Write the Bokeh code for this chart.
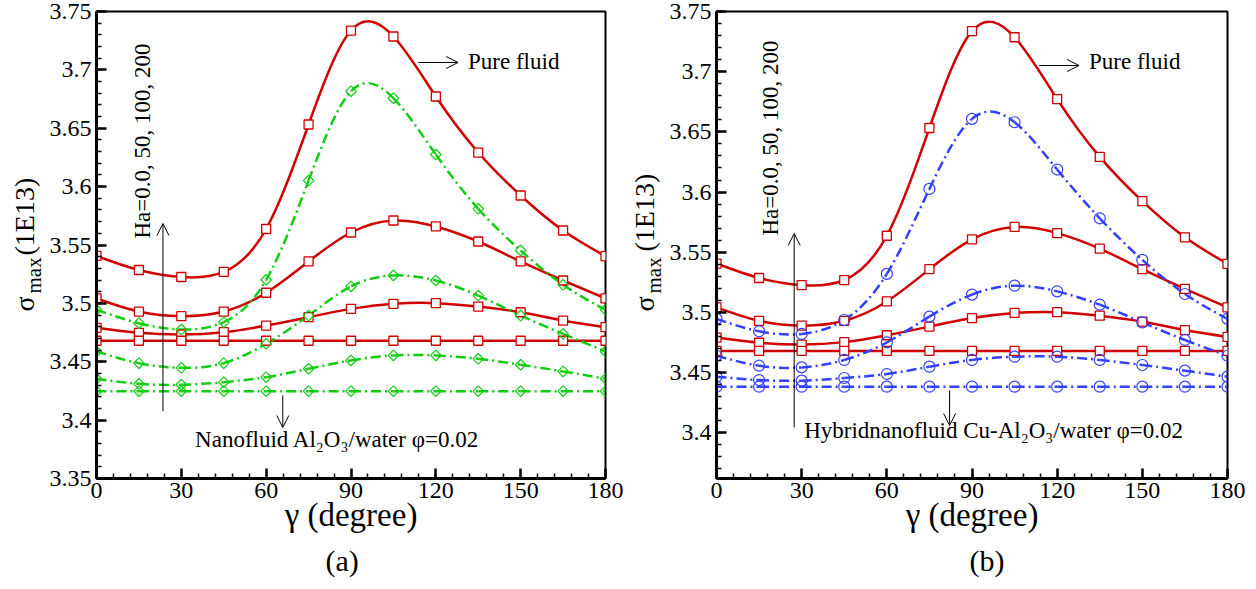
import numpy as np
from bokeh.plotting import figure
from bokeh.layouts import row
from bokeh.models import Label, Arrow, OpenHead, FixedTicker, Title, CustomJSTickFormatter
from bokeh.embed import file_html
from bokeh.resources import INLINE

# ---------------- data ----------------
gamma = [0, 15, 30, 45, 60, 75, 90, 105, 120, 135, 150, 165, 180]

# pure fluid (red squares), Ha = 0, 50, 100, 200
pure_ha0 = [3.468, 3.468, 3.468, 3.468, 3.468, 3.468, 3.468, 3.468, 3.468, 3.468, 3.468, 3.468, 3.468]
pure_ha50 = [3.4791, 3.4748, 3.4733, 3.4753, 3.4810, 3.4882, 3.4953, 3.4996, 3.5002, 3.4973, 3.4924, 3.4853, 3.4796]
pure_ha100 = [3.5042, 3.4930, 3.4890, 3.4930, 3.5091, 3.5359, 3.5607, 3.5710, 3.5659, 3.5530, 3.5359, 3.5196, 3.5042]
pure_ha200 = [3.5406, 3.5286, 3.5226, 3.5269, 3.5637, 3.6532, 3.7337, 3.7286, 3.6772, 3.6292, 3.5924, 3.5624, 3.5404]

# nanofluid Al2O3/water (green diamonds)
nano_ha0 = [3.4248, 3.4248, 3.4248, 3.4248, 3.4248, 3.4248, 3.4248, 3.4248, 3.4248, 3.4248, 3.4248, 3.4248, 3.4248]
nano_ha50 = [3.4354, 3.4311, 3.4303, 3.4325, 3.4368, 3.4440, 3.4511, 3.4554, 3.4554, 3.4525, 3.4474, 3.4417, 3.4354]
nano_ha100 = [3.4588, 3.4488, 3.4448, 3.4488, 3.4654, 3.4896, 3.5145, 3.5239, 3.5196, 3.5067, 3.4896, 3.4739, 3.4588]
nano_ha200 = [3.4945, 3.4830, 3.4776, 3.4839, 3.5202, 3.6052, 3.6817, 3.6757, 3.6275, 3.5810, 3.5453, 3.5159, 3.4945]

# hybrid nanofluid Cu-Al2O3/water (blue circles)
hyb_ha0 = [3.4383, 3.4383, 3.4383, 3.4383, 3.4383, 3.4383, 3.4383, 3.4383, 3.4383, 3.4383, 3.4383, 3.4383, 3.4383]
hyb_ha50 = [3.4466, 3.4438, 3.4433, 3.4455, 3.4488, 3.4549, 3.4605, 3.4632, 3.4632, 3.4605, 3.4563, 3.4516, 3.4466]
hyb_ha100 = [3.4640, 3.4557, 3.4543, 3.4605, 3.4751, 3.4965, 3.5148, 3.5222, 3.5175, 3.5064, 3.4917, 3.4771, 3.4640]
hyb_ha200 = [3.4946, 3.4843, 3.4821, 3.4937, 3.5320, 3.6026, 3.6608, 3.6580, 3.6187, 3.5782, 3.5436, 3.5153, 3.4946]

x_ticks = [0, 30, 60, 90, 120, 150, 180]
y_ticks_a = [3.35, 3.4, 3.45, 3.5, 3.55, 3.6, 3.65, 3.7, 3.75]
y_tick_labels_a = ["3.35", "3.4", "3.45", "3.5", "3.55", "3.6", "3.65", "3.7", "3.75"]
y_ticks_b = [3.4, 3.45, 3.5, 3.55, 3.6, 3.65, 3.7, 3.75]
y_tick_labels_b = ["3.4", "3.45", "3.5", "3.55", "3.6", "3.65", "3.7", "3.75"]

FONT = "Liberation Serif"
RED = "#d10000"
GREEN = "#12cc12"
BLUE = "#3340ff"
MID = 0.3375  # distance from baseline to text middle, in em


def spline_bezier(xs, ys):
    """Natural cubic spline through the points, expressed as cubic Bezier segments."""
    x = np.asarray(xs, float)
    y = np.asarray(ys, float)
    n = len(x)
    h = np.diff(x)
    A = np.zeros((n, n))
    r = np.zeros(n)
    A[0, 0] = 1
    A[-1, -1] = 1
    for i in range(1, n - 1):
        A[i, i - 1] = h[i - 1]
        A[i, i] = 2 * (h[i - 1] + h[i])
        A[i, i + 1] = h[i]
        r[i] = 6 * ((y[i + 1] - y[i]) / h[i] - (y[i] - y[i - 1]) / h[i - 1])
    M = np.linalg.solve(A, r)
    d = np.empty(n)
    d[:-1] = (y[1:] - y[:-1]) / h - h * (2 * M[:-1] + M[1:]) / 6
    d[-1] = (y[-1] - y[-2]) / h[-1] + h[-1] * (M[-2] + 2 * M[-1]) / 6
    return dict(
        x0=x[:-1], y0=y[:-1], x1=x[1:], y1=y[1:],
        cx0=x[:-1] + h / 3, cy0=y[:-1] + d[:-1] * h / 3,
        cx1=x[1:] - h / 3, cy1=y[1:] - d[1:] * h / 3,
    )


def make_ytitle(width, pieces):
    """Narrow strip holding the rotated y-axis title sigma_max(1E13).
    Its frame is aligned with the neighbouring plot frames (page y 11..478),
    so the y range is chosen such that data y = 589 - page y."""
    t = figure(width=width, height=589, x_range=(0, width), y_range=(589 - 478, 589 - 11),
               output_backend="svg", toolbar_location=None,
               x_axis_location=None, y_axis_location=None,
               min_border=0, min_border_left=0, min_border_right=0,
               min_border_top=0, min_border_bottom=0)
    t.outline_line_color = None
    t.xgrid.visible = False
    t.ygrid.visible = False
    t.background_fill_color = "white"
    t.border_fill_color = "white"
    for txt, base_x, start_y, fs in pieces:
        t.add_layout(Label(x=base_x - MID * fs, y=589 - start_y, text=txt, angle=np.pi / 2,
                           text_font=FONT, text_font_size=f"{fs}px", text_color="black",
                           text_align="left", text_baseline="middle"))
    return t


def make_panel(width, y0, y1, yt, border_left, border_right, series, px2d, texts, ytl):
    p = figure(width=width, height=589, x_range=(0, 180), y_range=(y0, y1),
               output_backend="svg", toolbar_location=None,
               min_border_left=border_left, min_border_right=border_right,
               min_border_top=11, min_border_bottom=111)
    p.xgrid.visible = False
    p.ygrid.visible = False
    p.outline_line_color = "black"
    p.outline_line_width = 2
    p.background_fill_color = "white"
    p.border_fill_color = "white"

    p.xaxis.ticker = FixedTicker(ticks=x_ticks, minor_ticks=list(range(0, 181, 6)))
    p.yaxis.ticker = FixedTicker(ticks=yt, minor_ticks=[round(3.35 + 0.01 * i, 2) for i in range(41)])
    p.yaxis.formatter = CustomJSTickFormatter(
        args=dict(tv=yt, tl=ytl),
        code="for (let i = 0; i < tv.length; i++) { if (Math.abs(tv[i] - tick) < 1e-6) return tl[i]; } return '';")
    for ax in (p.xaxis[0], p.yaxis[0]):
        ax.axis_line_width = 3
        ax.axis_line_color = "black"
        ax.major_tick_in = 10
        ax.major_tick_out = 0
        ax.minor_tick_in = 5
        ax.minor_tick_out = 0
        ax.major_tick_line_width = 2.5
        ax.minor_tick_line_width = 1.5
        ax.major_tick_line_color = "black"
        ax.minor_tick_line_color = "black"
        ax.major_label_text_font = FONT
        ax.major_label_text_font_size = "24px"
        ax.major_label_text_color = "black"
        ax.major_label_standoff = 5
    p.xaxis.major_label_standoff = 4
    p.xaxis.axis_label = "\u03b3 (degree)"
    p.xaxis.axis_label_text_font = FONT
    p.xaxis.axis_label_text_font_size = "33px"
    p.xaxis.axis_label_text_font_style = "normal"
    p.xaxis.axis_label_text_color = "black"
    p.xaxis.axis_label_standoff = -4

    for ys, color, dash, marker in series:
        b = spline_bezier(gamma, ys)
        p.bezier(x0=b["x0"], y0=b["y0"], x1=b["x1"], y1=b["y1"],
                 cx0=b["cx0"], cy0=b["cy0"], cx1=b["cx1"], cy1=b["cy1"],
                 line_color=color, line_width=2.5, line_dash=dash)
    for ys, color, dash, marker in series:
        if marker == "square":
            p.scatter(gamma, ys, marker="square", size=9, line_color=color,
                      line_width=1.3, fill_color="white")
        elif marker == "diamond":
            p.scatter(gamma, ys, marker="square", angle=np.pi / 4, size=7.5,
                      line_color=color, line_width=1.2, fill_alpha=0)
        else:
            p.scatter(gamma, ys, marker="circle", size=11, line_color=color,
                      line_width=1.2, fill_alpha=0)

    fx, fy = px2d
    fs = 23
    # Ha arrow and rotated text
    (hx, hy0, hy1), (tx, ty) = texts["ha"]
    p.add_layout(Arrow(end=OpenHead(size=12, line_width=1, line_color="black"),
                       x_start=fx(hx), y_start=fy(hy0), x_end=fx(hx), y_end=fy(hy1),
                       line_width=1, line_color="black"))
    p.add_layout(Label(x=fx(tx - MID * fs), y=fy(ty), text="Ha=0.0, 50, 100, 200", angle=np.pi / 2,
                       text_font=FONT, text_font_size=f"{fs}px", text_color="black",
                       text_align="left", text_baseline="middle"))
    # pure fluid arrow + label
    (ax0, ax1, ay), (ptx, pty) = texts["pure"]
    p.add_layout(Arrow(end=OpenHead(size=12, line_width=1, line_color="black"),
                       x_start=fx(ax0), y_start=fy(ay), x_end=fx(ax1), y_end=fy(ay),
                       line_width=1, line_color="black"))
    p.add_layout(Label(x=fx(ptx), y=fy(pty - MID * fs), text="Pure fluid", text_font=FONT,
                       text_font_size=f"{fs}px", text_color="black",
                       text_align="left", text_baseline="middle"))
    # down arrow + fluid label
    (dx, dy0, dy1), (ntx, nty, ntext) = texts["fluid"]
    p.add_layout(Arrow(end=OpenHead(size=12, line_width=1, line_color="black"),
                       x_start=fx(dx), y_start=fy(dy0), x_end=fx(dx), y_end=fy(dy1),
                       line_width=1, line_color="black"))
    p.add_layout(Label(x=fx(ntx), y=fy(nty - MID * fs), text=ntext, text_font=FONT,
                       text_font_size=f"{fs}px", text_color="black",
                       text_align="left", text_baseline="middle"))
    # panel tag below the axis
    tag, off = texts["tag"]
    p.add_layout(Title(text=tag, align="left", offset=off, standoff=13,
                       text_font=FONT, text_font_size="30px", text_font_style="normal",
                       text_color="black"), "below")
    return p


# pixel -> data helpers for annotation placement (panel a frame: page x 94..605, y 11..478)
def ax_a(px):
    return (px - 94) / 511 * 180


def ay_a(py):
    return 3.35 + (478 - py) / 467 * 0.4


# panel b frame: page x 714..1227 (given here relative to x=628), y 11..478
def ax_b(px):
    return (px - 86) / 513 * 180


def ay_b(py):
    return 3.362 + (478 - py) / 467 * (3.75 - 3.362)


series_a = [
    (pure_ha200, RED, "solid", "square"),
    (pure_ha100, RED, "solid", "square"),
    (pure_ha50, RED, "solid", "square"),
    (pure_ha0, RED, "solid", "square"),
    (nano_ha200, GREEN, "10 4 2 4", "diamond"),
    (nano_ha100, GREEN, "10 4 2 4", "diamond"),
    (nano_ha50, GREEN, "10 4 2 4", "diamond"),
    (nano_ha0, GREEN, "10 4 2 4", "diamond"),
]
series_b = [
    (pure_ha200, RED, "solid", "square"),
    (pure_ha100, RED, "solid", "square"),
    (pure_ha50, RED, "solid", "square"),
    (pure_ha0, RED, "solid", "square"),
    (hyb_ha200, BLUE, "10 4 2 4", "circle"),
    (hyb_ha100, BLUE, "10 4 2 4", "circle"),
    (hyb_ha50, BLUE, "10 4 2 4", "circle"),
    (hyb_ha0, BLUE, "10 4 2 4", "circle"),
]

# annotation anchors: baselines in pixels
texts_a = {
    "ha": ((160.7, 410.7, 223), (148, 238)),
    "pure": ((417, 457, 62), (467, 69)),
    "fluid": ((281, 395, 427), (193, 447, "Nanofluid Al\u2082O\u2083/water \u03c6=0.02")),
    "tag": ("(a)", 229),
}
texts_b = {
    "ha": ((164, 427, 233), (147.5, 235)),
    "pure": ((410, 450, 65), (460, 69)),
    "fluid": ((320, 390, 425), (174, 438, "Hybridnanofluid Cu-Al\u2082O\u2083/water \u03c6=0.02")),
    "tag": ("(b)", 253),
}

ya = make_ytitle(46, [("\u03c3", 33, 311, 28), ("max", 41, 293, 21), ("(1E13)", 33, 255, 28)])
pa = make_panel(582, 3.35, 3.75, y_ticks_a, 48, 23, series_a, (ax_a, ay_a), texts_a, y_tick_labels_a)
yb = make_ytitle(38, [("\u03c3", 25, 311, 28), ("max", 33, 293, 21), ("(1E13)", 25, 251, 28)])
pb = make_panel(590, 3.362, 3.75, y_ticks_b, 48, 29, series_b, (ax_b, ay_b), texts_b, y_tick_labels_b)

layout = row(ya, pa, yb, pb, spacing=0)
open("out.html", "w").write(file_html(layout, INLINE))
